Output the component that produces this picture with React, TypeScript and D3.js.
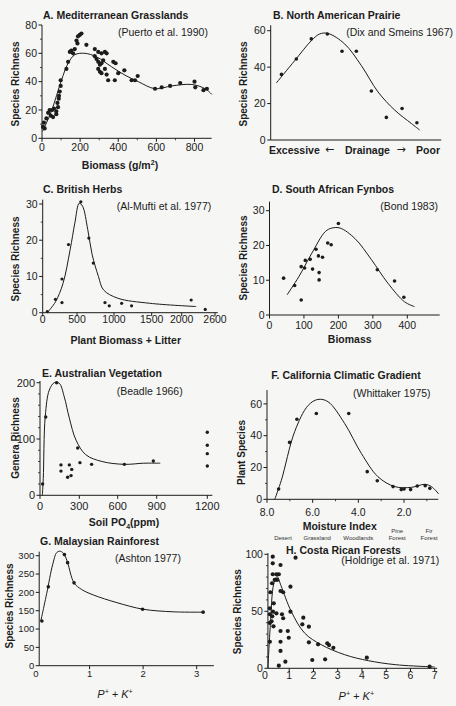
import React from 'react'
import * as d3 from 'd3'

type Pt = [number, number]

// A. Mediterranean Grasslands (Puerto et al. 1990)
const aPoints: Pt[] = [
  [5, 8], [10, 11], [14, 7], [23, 14], [32, 18], [40, 20], [46, 16], [53, 20], [58, 15],
  [63, 21], [75, 19], [75, 17], [84, 22], [81, 25], [88, 28], [89, 30], [93, 33], [98, 37],
  [98, 41], [128, 49], [137, 54], [146, 61], [154, 62], [163, 60], [172, 63], [181, 69],
  [186, 67], [189, 72], [198, 73], [207, 74], [233, 66], [277, 63], [295, 61], [312, 60],
  [330, 61], [339, 60], [277, 58], [286, 56], [295, 54], [304, 52], [312, 53], [321, 55],
  [295, 49], [304, 47], [312, 46], [330, 49], [339, 45], [347, 41], [374, 54], [386, 53],
  [382, 41], [400, 46], [432, 48], [470, 41], [488, 41], [502, 44], [593, 35], [628, 36],
  [672, 37], [725, 39], [800, 40], [804, 36], [847, 34], [865, 35],
]
const aCurve: Pt[] = [
  [3, 5], [49, 19], [102, 41], [137, 53], [172, 59], [225, 60], [286, 57.5], [365, 50.5],
  [435, 44.6], [505, 40], [593, 35], [681, 37], [786, 38], [856, 35], [891, 31],
]
const aXTicks = [0, 200, 400, 600, 800]
const aYTicks = [0, 20, 40, 60, 80]

// B. North American Prairie (Dix and Smeins 1967)
const bPoints: Pt[] = [
  [0.63, 36], [1.5, 44.5], [2.38, 55.5], [3.32, 58.2], [4.18, 48.7], [5.02, 48.7],
  [5.9, 26.9], [6.78, 12.4], [7.7, 17.3], [8.57, 9.5],
]
const bCurve: Pt[] = [
  [0.33, 31.3], [1.41, 43.6], [2.38, 54.5], [2.87, 58.2], [3.36, 58.5], [4.34, 52.7],
  [5.31, 40.9], [6.29, 26.4], [7.27, 16.4], [8.24, 9.1], [8.73, 5.5],
]
const bYTicks = [0, 20, 40, 60]

// C. British Herbs (Al-Mufti et al. 1977)
const cPoints: Pt[] = [
  [67, 0.3], [186, 3.7], [281, 2.8], [281, 9.3], [376, 18.8], [552, 30.6], [660, 20.6],
  [720, 13.7], [878, 2.8], [936, 1.9], [1101, 2.6], [1233, 1.9], [2171, 3.5], [2424, 0.9],
]
const cCurve: Pt[] = [
  [67, 0], [186, 3], [295, 8], [400, 17.4], [469, 24.8], [530, 30.2], [575, 29.4],
  [645, 23], [705, 16], [790, 10], [858, 6.3], [1050, 4], [1474, 2.6], [2260, 1.7],
]
const cXTicks = [0, 500, 1000, 1500, 2000, 2600]
const cYTicks = [0, 10, 20, 30]

// D. South African Fynbos (Bond 1983)
const dPoints: Pt[] = [
  [41, 10.6], [73, 8.5], [92, 4.3], [92, 13.9], [102, 13.5], [104, 15.7], [118, 16],
  [125, 13.2], [135, 18.9], [142, 17], [144, 12.2], [144, 10.1], [154, 16.6], [169, 20.7],
  [179, 20.2], [200, 26.3], [313, 13], [363, 9.8], [390, 5.1],
]
const dCurve: Pt[] = [
  [51, 5.8], [85, 11], [123, 17.8], [162, 24], [181, 25], [205, 25], [248, 22],
  [296, 15.9], [344, 9.1], [392, 3.8], [421, 2.4],
]
const dXTicks = [0, 100, 200, 300, 400]
const dYTicks = [0, 10, 20, 30]

// E. Australian Vegetation (Beadle 1966)
const ePoints: Pt[] = [
  [20, 20], [44, 139], [127, 200], [160, 54], [160, 43], [224, 54], [211, 32], [237, 35],
  [242, 46], [288, 84], [305, 58], [396, 55], [651, 55], [874, 61],
  [1200, 112], [1200, 89], [1200, 74], [1200, 52],
]
const eCurve: Pt[] = [
  [18, 0], [25, 30], [40, 140], [71, 187], [109, 200], [147, 199], [185, 175], [224, 137],
  [275, 98], [351, 72], [478, 60], [651, 55], [800, 57], [921, 57],
]
const eXTicks = [0, 300, 600, 900, 1200]
const eYTicks = [0, 100, 200]

// F. California Climatic Gradient (Whittaker 1975)
const fPoints: Pt[] = [
  [7.49, 6.5], [7.01, 35.8], [6.69, 50.3], [5.84, 54], [4.42, 54], [3.61, 17.4],
  [3.17, 11.7], [2.48, 8], [2.12, 6.1], [2.0, 6.5], [1.71, 6.1], [1.42, 8.4], [1.07, 8.6],
  [0.87, 6.9],
]
const fCurve: Pt[] = [
  [7.66, 0], [7.37, 12], [6.79, 42.5], [6.2, 59], [5.77, 62.8], [5.33, 61.4], [4.6, 47.7],
  [3.87, 28.9], [3.14, 14.2], [2.41, 8], [1.68, 7.5], [1.09, 9.4], [0.8, 8], [0.48, 3.4],
]
const fXTicks = [8, 6, 4, 2]
const fYTicks = [0, 20, 40, 60]
const fZones = ['Desert', 'Grassland', 'Woodlands', 'Pine|Forest', 'Fir|Forest']
const fZoneAt = [7.3, 5.8, 4.0, 2.3, 0.9]

// G. Malaysian Rainforest (Ashton 1977)
const gPoints: Pt[] = [
  [0.11, 122], [0.23, 215], [0.53, 303], [0.59, 281], [0.71, 226], [1.99, 154], [3.12, 146],
]
const gCurve: Pt[] = [
  [0.09, 122], [0.2, 197], [0.31, 275], [0.39, 309], [0.46, 312], [0.53, 303], [0.59, 281],
  [0.71, 226], [0.85, 208], [1.07, 193], [1.51, 172], [2.0, 154], [2.56, 147], [3.12, 146],
]
const gXTicks = [0, 1, 2, 3]
const gYTicks = [0, 50, 100, 150, 200, 250, 300]

// H. Costa Rican Forests (Holdrige et al. 1971)
const hPoints: Pt[] = [
  [0.32, 97.9], [0.32, 92.1], [0.64, 90.6], [1.26, 97], [0.32, 82.5], [0.47, 82.5],
  [0.57, 82.5], [0.4, 77.5], [0.5, 77.5], [0.29, 74.6], [0.22, 66.7], [0.64, 67.8],
  [0.75, 66.7], [1.05, 71.6], [0.36, 57], [0.2, 52.6], [0.33, 49.7], [0.47, 48.2],
  [0.2, 47.4], [0.3, 45.6], [0.2, 39.8], [0.27, 41.2], [0.35, 36.8], [0.7, 47.4],
  [0.75, 43.9], [1.05, 49.7], [0.64, 32.7], [0.64, 23.3], [0.64, 15.2], [0.98, 26.8],
  [0.94, 32.7], [0.84, 5.8], [0.57, 2.3], [0.2, 23.3], [1.54, 38.6], [1.58, 44.4],
  [1.81, 36.5], [1.81, 22.8], [1.95, 7.3], [2.19, 21], [2.57, 21.9], [2.64, 20.4],
  [2.82, 18], [2.48, 7.9], [4.2, 9.3], [6.79, 1.4],
]
const hCurve: Pt[] = [
  [0.12, 0], [0.22, 38], [0.36, 74], [0.5, 80.5], [0.66, 72.5], [1.08, 50], [1.63, 31],
  [2.32, 20.7], [3.29, 11.9], [4.26, 6.7], [5.37, 3.2], [6.75, 1.4], [7.0, 1.2],
]
const hXTicks = [0, 1, 2, 3, 4, 5, 6, 7]
const hYTicks = [0, 50, 100]

const INK = '#1c1c1c'
const FONT = '"Liberation Sans", Arial, Helvetica, sans-serif'

type Label = { text: string; x: number; y: number; anchor?: 'start' | 'end' | 'middle' }
type PanelSpec = {
  x: d3.ScaleLinear<number, number>
  y: d3.ScaleLinear<number, number>
  xEnd: number
  yTop: number
  yAxisAt?: number
  xTicks: number[]
  xMinor?: number[]
  yTicks: number[]
  yMinor?: number[]
  xFmt?: (v: number) => string
  xTickDy: number
  fs: number
  r: number
  points: Pt[]
  curve: Pt[]
  title: Label
  cite: Label
  yLabel: Label
}

const range = (a: number, b: number, s: number) => d3.range(a, b + s / 2, s)

function Panel({ s }: { s: PanelSpec }) {
  const x0 = s.yAxisAt ?? s.x.domain()[0]
  const ax = s.x(x0)
  const ay = s.y(0)
  const line = d3
    .line<Pt>()
    .x(d => s.x(d[0]))
    .y(d => s.y(d[1]))
    .curve(d3.curveCatmullRom.alpha(0.5))
  const fmt = s.xFmt ?? ((v: number) => String(v))
  const inside = (t: number) => (s.x(t) >= ax - 0.5)
  return (
    <g>
      <path d={`M${ax},${s.y(s.yTop)}V${ay}H${s.x(s.xEnd)}`} fill="none" stroke={INK} strokeWidth={1} />
      {s.yTicks.map(t => (
        <line key={'yt' + t} x1={ax - 3.5} x2={ax} y1={s.y(t)} y2={s.y(t)} stroke={INK} strokeWidth={1} />
      ))}
      {(s.yMinor || []).map(t => (
        <line key={'ym' + t} x1={ax - 2} x2={ax} y1={s.y(t)} y2={s.y(t)} stroke={INK} strokeWidth={0.8} />
      ))}
      {s.yTicks.map(t => (
        <text key={'yl' + t} x={ax - 5} y={s.y(t)} dy="0.36em" textAnchor="end" fontSize={s.fs}>
          {t}
        </text>
      ))}
      {s.xTicks.filter(inside).map(t => (
        <line key={'xt' + t} x1={s.x(t)} x2={s.x(t)} y1={ay} y2={ay + 3.5} stroke={INK} strokeWidth={1} />
      ))}
      {(s.xMinor || []).filter(inside).map(t => (
        <line key={'xm' + t} x1={s.x(t)} x2={s.x(t)} y1={ay} y2={ay + 2} stroke={INK} strokeWidth={0.8} />
      ))}
      {s.xTicks.map(t => (
        <text key={'xl' + t} x={s.x(t)} y={ay + s.xTickDy} textAnchor="middle" fontSize={s.fs}>
          {fmt(t)}
        </text>
      ))}
      <path d={line(s.curve) || ''} fill="none" stroke={INK} strokeWidth={1} />
      {s.points.map((p, i) => (
        <circle key={i} cx={s.x(p[0])} cy={s.y(p[1])} r={s.r} fill={INK} />
      ))}
      <text x={s.title.x} y={s.title.y} fontSize={10.5} fontWeight="bold">
        {s.title.text}
      </text>
      <text x={s.cite.x} y={s.cite.y} fontSize={10.5} textAnchor={s.cite.anchor || 'start'}>
        {s.cite.text}
      </text>
      <text
        transform={`translate(${s.yLabel.x},${s.yLabel.y}) rotate(-90)`}
        textAnchor="middle"
        fontSize={10}
        fontWeight="bold"
      >
        {s.yLabel.text}
      </text>
    </g>
  )
}

const panels: PanelSpec[] = [
  {
    x: d3.scaleLinear().domain([0, 800]).range([42, 194.5]),
    y: d3.scaleLinear().domain([0, 80]).range([138.3, 25]),
    xEnd: 890, yTop: 80,
    xTicks: aXTicks, xMinor: range(100, 700, 200), yTicks: aYTicks, yMinor: range(10, 70, 20),
    xTickDy: 12.5, fs: 10.5, r: 2.1, points: aPoints, curve: aCurve,
    title: { text: 'A. Mediterranean Grasslands', x: 43, y: 18.5 },
    cite: { text: '(Puerto et al. 1990)', x: 118, y: 35.5 },
    yLabel: { text: 'Species Richness', x: 19, y: 84 },
  },
  {
    x: d3.scaleLinear().domain([0, 10]).range([270.7, 441.3]),
    y: d3.scaleLinear().domain([0, 60]).range([140, 30.7]),
    xEnd: 10, yTop: 63,
    xTicks: [], yTicks: bYTicks,
    xTickDy: 12, fs: 10.5, r: 1.8, points: bPoints, curve: bCurve,
    title: { text: 'B. North American Prairie', x: 273, y: 19 },
    cite: { text: '(Dix and Smeins 1967)', x: 453, y: 36, anchor: 'end' },
    yLabel: { text: 'Species Richness', x: 247, y: 84 },
  },
  {
    x: d3.scaleLinear().domain(cXTicks).range([42.7, 77, 114, 151.7, 181.7, 215]),
    y: d3.scaleLinear().domain([0, 30]).range([312.7, 204]),
    xEnd: 2650, yTop: 31.2,
    xTicks: cXTicks, yTicks: cYTicks, yMinor: [5, 15, 25],
    xTickDy: 10.5, fs: 10.5, r: 1.6, points: cPoints, curve: cCurve,
    title: { text: 'C. British Herbs', x: 43, y: 193.3 },
    cite: { text: '(Al-Mufti et al. 1977)', x: 116.7, y: 210 },
    yLabel: { text: 'Species Richness', x: 19, y: 259 },
  },
  {
    x: d3.scaleLinear().domain([0, 400]).range([269.5, 407.3]),
    y: d3.scaleLinear().domain([0, 30]).range([315, 210.7]),
    xEnd: 494, yTop: 32.6,
    xTicks: dXTicks, yTicks: dYTicks,
    xTickDy: 14, fs: 10.5, r: 1.8, points: dPoints, curve: dCurve,
    title: { text: 'D. South African Fynbos', x: 272, y: 193.3 },
    cite: { text: '(Bond 1983)', x: 438, y: 210, anchor: 'end' },
    yLabel: { text: 'Species Richness', x: 247, y: 258 },
  },
  {
    x: d3.scaleLinear().domain(eXTicks).range([40, 79.3, 117.7, 156.7, 207.3]),
    y: d3.scaleLinear().domain([0, 200]).range([495.3, 382.7]),
    xEnd: 1230, yTop: 203,
    xTicks: eXTicks, yTicks: eYTicks, yMinor: [20, 40, 60, 80, 120, 140, 160, 180],
    xTickDy: 15, fs: 11, r: 1.7, points: ePoints, curve: eCurve,
    title: { text: 'E. Australian Vegetation', x: 42, y: 377 },
    cite: { text: '(Beadle 1966)', x: 116.7, y: 394.5 },
    yLabel: { text: 'Genera Richness', x: 19, y: 438 },
  },
  {
    x: d3.scaleLinear().domain([8, 2]).range([267, 404]),
    y: d3.scaleLinear().domain([0, 60]).range([499.3, 403.9]),
    xEnd: 0.5, yTop: 68.7,
    xTicks: fXTicks, xMinor: [7, 5, 3, 1], yTicks: fYTicks, yMinor: [10, 30, 50],
    xFmt: v => v.toFixed(1),
    xTickDy: 16.5, fs: 10.5, r: 1.8, points: fPoints, curve: fCurve,
    title: { text: 'F. California Climatic Gradient', x: 271.3, y: 378.7 },
    cite: { text: '(Whittaker 1975)', x: 353, y: 397.3 },
    yLabel: { text: 'Plant Species', x: 245.3, y: 452.5 },
  },
  {
    x: d3.scaleLinear().domain([0, 3]).range([36, 196.7]),
    y: d3.scaleLinear().domain([0, 300]).range([665.7, 555.7]),
    xEnd: 3.32, yTop: 311, yAxisAt: 0.06,
    xTicks: gXTicks, yTicks: gYTicks,
    xTickDy: 11, fs: 9.5, r: 1.8, points: gPoints, curve: gCurve,
    title: { text: 'G. Malaysian Rainforest', x: 40, y: 544.5 },
    cite: { text: '(Ashton 1977)', x: 115, y: 562 },
    yLabel: { text: 'Species Richness', x: 13.3, y: 606 },
  },
  {
    x: d3.scaleLinear().domain([0, 7]).range([265, 434.7]),
    y: d3.scaleLinear().domain([0, 100]).range([668.3, 554.3]),
    xEnd: 7.1, yTop: 101, yAxisAt: 0.12,
    xTicks: hXTicks, yTicks: hYTicks, yMinor: [10, 20, 30, 40, 60, 70, 80, 90],
    xTickDy: 10.7, fs: 10.5, r: 2.1, points: hPoints, curve: hCurve,
    title: { text: 'H. Costa Rican Forests', x: 286, y: 553.5 },
    cite: { text: '(Holdrige et al. 1971)', x: 341.3, y: 564 },
    yLabel: { text: 'Species Richness', x: 241.3, y: 611.7 },
  },
]

function PK({ x, y }: { x: number; y: number }) {
  return (
    <text x={x} y={y} textAnchor="middle" fontSize={11} fontStyle="italic">
      P<tspan dy={-4} fontSize={7}>+</tspan>
      <tspan dy={4}> + K</tspan>
      <tspan dy={-4} fontSize={7}>+</tspan>
    </text>
  )
}

export default function App() {
  const fx = panels[5].x
  return (
    <div style={{ position: 'absolute', left: 0, top: 0 }}>
      <svg width={456} height={706} style={{ display: 'block' }} fontFamily={FONT} fill={INK}>
        <rect width={456} height={706} fill="#f6f6f4" />
        {panels.map((p, i) => (
          <Panel key={i} s={p} />
        ))}
        {/* x axis titles */}
        <text x={120} y={168.5} textAnchor="middle" fontSize={10.5} fontWeight="bold">
          Biomass (g/m<tspan dy={-3.5} fontSize={7}>2</tspan>
          <tspan dy={3.5}>)</tspan>
        </text>
        <g fontSize={10.5} fontWeight="bold">
          <text x={269} y={153.5}>Excessive</text>
          <text x={329.5} y={153} textAnchor="middle" fontFamily='"DejaVu Sans"' fontWeight="normal" fontSize={11}>←</text>
          <text x={367.5} y={153.5} textAnchor="middle">Drainage</text>
          <text x={401} y={153} textAnchor="middle" fontFamily='"DejaVu Sans"' fontWeight="normal" fontSize={11}>→</text>
          <text x={440} y={153.5} textAnchor="end">Poor</text>
        </g>
        <text x={125.7} y={344} textAnchor="middle" fontSize={10.5} fontWeight="bold">
          Plant Biomass + Litter
        </text>
        <text x={349.7} y={343.3} textAnchor="middle" fontSize={10.5} fontWeight="bold">
          Biomass
        </text>
        <text x={124} y={526} textAnchor="middle" fontSize={10.5} fontWeight="bold">
          Soil PO<tspan dy={2.5} fontSize={7}>4</tspan>
          <tspan dy={-2.5}>(ppm)</tspan>
        </text>
        <text x={339.7} y={530} textAnchor="middle" fontSize={10.5} fontWeight="bold">
          Moisture Index
        </text>
        {fZones.map((z, i) => {
          const parts = z.split('|')
          return (
            <text key={z} x={fx(fZoneAt[i])} y={539.5} textAnchor="middle" fontSize={6} fill="#333">
              {parts.length === 1 ? (
                parts[0]
              ) : (
                <>
                  <tspan x={fx(fZoneAt[i])} dy={-7}>{parts[0]}</tspan>
                  <tspan x={fx(fZoneAt[i])} dy={7}>{parts[1]}</tspan>
                </>
              )}
            </text>
          )
        })}
        <PK x={115} y={698} />
        <PK x={356.3} y={700} />
      </svg>
    </div>
  )
}
